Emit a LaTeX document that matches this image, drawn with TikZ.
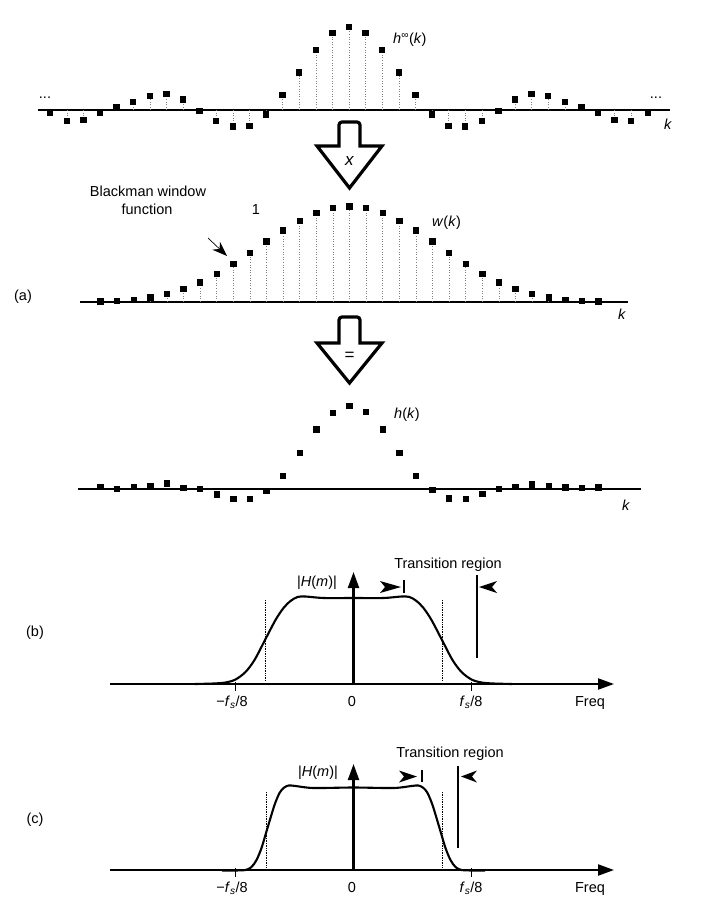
\documentclass[tikz,border=0pt]{standalone}
\usepackage{fontspec}
\setmainfont{Liberation Sans}
\usetikzlibrary{arrows.meta}
\begin{document}
\begin{tikzpicture}[x=1pt,y=-1pt,
  lbl/.style={font=\fontsize{14.5}{17}\selectfont, inner sep=0pt},
  biglbl/.style={font=\fontsize{17}{19}\selectfont, inner sep=0pt},
  stemline/.style={dotted, line width=0.6pt, black!50},
  kaxis/.style={line width=2pt},
  blockarrow/.style={line width=3.2pt, line join=miter, fill=white},
  faxis/.style={line width=2.2pt, -{Triangle[length=16pt,width=11pt]}},
  resp/.style={line width=2.1pt, line join=round},
  guide/.style={densely dotted, line width=0.7pt},
  tickmark/.style={line width=1.4pt},
  marker/.style={fill=black},
  ]
\useasboundingbox (0,0) rectangle (721,904);

% ---------------- top panel: h_inf(k)
\draw[kaxis] (38,110) -- (670,110);
\def\topvals{83,77,60,37.5,15,-4.5,-16,-16.7,-11.2,-1,10.3,16,14,8.2,2.8,-2.5,-10.2,-11,-2.7}
\foreach \v [count=\c] in \topvals {
  \foreach \sg in {-1,1}{
    \pgfmathsetmacro{\xx}{349+\sg*(\c-1)*16.6}
    \pgfmathsetmacro{\yy}{110-\v}
    \draw[stemline] (\xx,110) -- (\xx,\yy);
    \fill (\xx-3.2,\yy-3.2) rectangle (\xx+3.2,\yy+3.2);
  }
}
\node[lbl, anchor=base] (dl) at (45,99) {...};
\node[lbl, anchor=base] (dr) at (656,99) {...};
\node[lbl, anchor=west] (hinf) at (393,40) {\textit{h}\textsuperscript{∞}(\textit{k})};
\node[lbl] (k1) at (668,124) {\textit{k}};

% block arrow x
\draw[blockarrow] (339,146) [rounded corners=3pt] -- (339,122) -- (360,122) [sharp corners] -- (360,146) -- (382,146) -- (349.5,188) -- (317,146) -- cycle;
\node[biglbl] (times) at (349.5,161) {\textit{x}};

% ---------------- middle panel: w(k)
\node[lbl] (bw1) at (148,191) {Blackman window};
\node[lbl] (bw2) at (147,209) {function};
\node[lbl] (one) at (256,210) {1};
\coordinate (ptail) at (208,238);
\coordinate (phead) at (227,256);
\draw[line width=0.7pt, -{Stealth[length=15pt,width=11pt]}] (ptail) -- (phead);
\draw[kaxis] (80,301.5) -- (628,301.5);
\foreach \kk in {-15,...,15} {
  \pgfmathsetmacro{\xx}{349.5+\kk*16.6}
  \pgfmathsetmacro{\yy}{301.5-95*(0.42+0.5*cos(12*\kk)+0.08*cos(24*\kk))}
  \draw[stemline] (\xx,301.5) -- (\xx,\yy);
  \fill (\xx-3.2,\yy-3.2) rectangle (\xx+3.2,\yy+3.2);
}
\node[lbl, anchor=west] (wk) at (432,223) {\textit{w}(\textit{k})};
\node[lbl] (k2) at (622,314) {\textit{k}};
\node[lbl] (pa) at (23,297) {(a)};

% block arrow =
\draw[blockarrow] (339,343) [rounded corners=3pt] -- (339,317) -- (360,317) [sharp corners] -- (360,343) -- (382,343) -- (349.5,383) -- (317,343) -- cycle;
\node[biglbl] (eq) at (349.5,356) {=};

% ---------------- bottom panel: h(k)
\draw[kaxis] (78,489) -- (641,489);
\def\botvals{2,0,2,3.3,5.7,1.3,0,-5.3,-9.7,-9.7,-1.7,13,36.3,59.7,76,83,77,59.7,36.3,13.3,-1,-9.3,-10,-4.7,0,2.3,4.7,3.3,1.7,1.3,1.7}
\foreach \v [count=\c] in \botvals {
  \pgfmathsetmacro{\xx}{349.5+(\c-16)*16.6}
  \pgfmathsetmacro{\yy}{489-\v}
  \fill (\xx-3.2,\yy-3.2) rectangle (\xx+3.2,\yy+3.2);
}
\node[lbl, anchor=west] (hk) at (394,415) {\textit{h}(\textit{k})};
\node[lbl] (k3) at (626,505) {\textit{k}};

% ---------------- panel (b)
\node[lbl] (pb) at (35,633) {(b)};
\draw[guide] (265,600) -- (265,681);
\draw[guide] (442,600) -- (442,681);
\draw[faxis] (110,684) -- (614,684);
\draw[faxis] (353.5,684) -- (353.5,572);
\draw[resp] plot[smooth, tension=0.5] coordinates {(195,684) (213.5,683.5) (225.5,682.5) (235.5,679.5) (245.5,672) (254.5,660) (265,640) (275.5,620) (283.5,608) (290.5,601) (297.5,597) (305.5,596.5) (323.5,598) (353.5,598) (383.5,598) (401.5,596.5) (409.5,597) (416.5,601) (423.5,608) (431.5,620) (442,640) (452.5,660) (461.5,672) (471.5,679.5) (481.5,682.5) (493.5,683.5) (512,684)};
\draw[tickmark] (235.5,682) -- (235.5,691);
\draw[tickmark] (471.5,682) -- (471.5,691);
\node[lbl, anchor=base] (mfb) at (232,706) {−\textit{f}\textsubscript{\textit{s}}/8};
\node[lbl, anchor=base] (zb) at (352,706) {0};
\node[lbl, anchor=base] (fb) at (471,706) {\textit{f}\textsubscript{\textit{s}}/8};
\node[lbl, anchor=base] (freqb) at (590,706) {Freq};
\node[lbl] (Hb) at (317,583) {|\textit{H}(\textit{m})|};
\node[lbl] (trb) at (448,565) {Transition region};
\fill[marker] (380,581) -- (401,587) -- (380,593) -- (385,587) -- cycle;
\draw[tickmark] (404,580) -- (404,593);
\fill[marker] (497,581) -- (479,587) -- (497,593) -- (492,587) -- cycle;
\draw[line width=1.1pt] (477,575) -- (477,658);

% ---------------- panel (c)
\node[lbl] (pc) at (35,820) {(c)};
\draw[guide] (266,792) -- (266,868);
\draw[guide] (442,792) -- (442,868);
\draw[faxis] (110,870) -- (614,870);
\draw[faxis] (353.5,870) -- (353.5,764);
\draw[resp] plot[smooth, tension=0.5] coordinates {(222,870.5) (233.5,870.5) (245.5,870) (251.5,867) (256.5,860) (261.5,848) (267.5,828) (274.5,805) (279.5,793) (283.5,788) (288.5,785.5) (295.5,786) (313.5,788) (353.5,787.5) (393.5,788) (411.5,786) (418.5,785.5) (423.5,788) (427.5,793) (432.5,805) (439.5,828) (445.5,848) (450.5,860) (455.5,867) (461.5,870) (473.5,870.5) (485,870.5)};
\draw[tickmark] (235.5,868) -- (235.5,877);
\draw[tickmark] (471.5,868) -- (471.5,877);
\node[lbl, anchor=base] (mfc) at (232,892) {−\textit{f}\textsubscript{\textit{s}}/8};
\node[lbl, anchor=base] (zc) at (352,892) {0};
\node[lbl, anchor=base] (fc) at (471,892) {\textit{f}\textsubscript{\textit{s}}/8};
\node[lbl, anchor=base] (freqc) at (590,892) {Freq};
\node[lbl] (Hc) at (318,773) {|\textit{H}(\textit{m})|};
\node[lbl] (trc) at (450,754) {Transition region};
\fill[marker] (399,770.5) -- (417,776.5) -- (399,782.5) -- (404,776.5) -- cycle;
\draw[tickmark] (422,770) -- (422,782);
\fill[marker] (477,770.5) -- (461,776.5) -- (477,782.5) -- (472,776.5) -- cycle;
\draw[line width=1.1pt] (458,766) -- (458,848);
\end{tikzpicture}
\end{document}
